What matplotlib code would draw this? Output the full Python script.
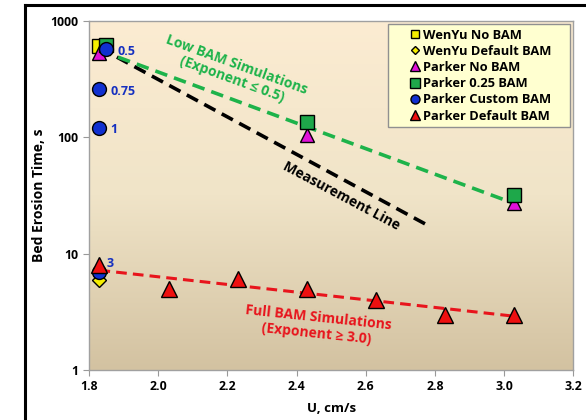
import numpy as np
import matplotlib
matplotlib.use("Agg")
import matplotlib.pyplot as plt
from matplotlib.colors import LinearSegmentedColormap
from matplotlib.lines import Line2D

plt.rcParams['font.family'] = ['Open Sans', 'DejaVu Sans']

# ---- data ----
wenyu_nobam_u, wenyu_nobam_t = [1.83], [610]
wenyu_default_u, wenyu_default_t = [1.83], [5.9]
parker_nobam_u = [1.83, 2.43, 3.03]
parker_nobam_t = [530, 105, 27]
parker_025_u = [1.85, 2.43, 3.03]
parker_025_t = [620, 135, 32]
parker_custom_u = [1.85, 1.83, 1.83, 1.83]
parker_custom_t = [570, 260, 120, 7]
custom_labels = ["0.5", "0.75", "1", "3"]
parker_default_u = [1.83, 2.03, 2.23, 2.43, 2.63, 2.83, 3.03]
parker_default_t = [8, 5, 6, 5, 4, 3, 3]

low_bam_u, low_bam_t = [1.83, 3.03], [560, 27]
meas_u, meas_t = [1.83, 2.78], [590, 17.5]
full_bam_u, full_bam_t = [1.83, 3.03], [7.2, 2.9]

GREEN = "#1db34a"
RED = "#e8141c"
BLUE = "#1530c0"

fig = plt.figure(figsize=(5.86, 4.2), dpi=100)
ax = fig.add_axes([0.152, 0.119, 0.826, 0.831])

# outer black frame (cropped at right/bottom in the reference)
fig.add_artist(Line2D([25 / 586, 25 / 586], [0, 1 - 5 / 420], color="black", lw=2.2,
                      transform=fig.transFigure))
fig.add_artist(Line2D([25 / 586, 1], [1 - 5 / 420, 1 - 5 / 420], color="black", lw=2.2,
                      transform=fig.transFigure))

# gradient plot area
cmap = LinearSegmentedColormap.from_list("bg", ["#d3c2a1", "#f0e4c8", "#fcecd2"])
grad = np.linspace(0, 1, 256).reshape(-1, 1)
ax.imshow(grad, extent=[0, 1, 0, 1], transform=ax.transAxes, aspect="auto",
          cmap=cmap, origin="lower", zorder=0)

ax.set_yscale("log")

# fitted / reference lines
ax.plot(meas_u, meas_t, ls=(0, (3.5, 2)), color="black", lw=2.6, zorder=2)
ax.plot(low_bam_u, low_bam_t, ls=(0, (3.5, 2)), color=GREEN, lw=2.6, zorder=2)
ax.plot(full_bam_u, full_bam_t, ls=(0, (3.5, 2)), color=RED, lw=2.2, zorder=2)

mk = dict(ls="none", mec="black", mew=1.0, zorder=4)
ax.plot(wenyu_nobam_u, wenyu_nobam_t, marker="s", ms=9.5, mfc="#f5ee00",
        label="WenYu No BAM", **mk)
ax.plot(wenyu_default_u, wenyu_default_t, marker="D", ms=7, mfc="#f5ee00",
        label="WenYu Default BAM", **mk)
ax.plot(parker_nobam_u, parker_nobam_t, marker="^", ms=10.5, mfc="#e010d8",
        label="Parker No BAM", **mk)
ax.plot(parker_025_u, parker_025_t, marker="s", ms=10, mfc="#1ea84a",
        label="Parker 0.25 BAM", **mk)
ax.plot(parker_custom_u, parker_custom_t, marker="o", ms=10, mfc="#1030d0",
        label="Parker Custom BAM", **mk)
ax.plot(parker_default_u, parker_default_t, marker="^", ms=11, mfc="#ee1010",
        label="Parker Default BAM", **mk)

# custom BAM exponent labels
offsets = [(8, -1.5), (8, -2), (8, -1), (5, 6)]
for u, t, s, off in zip(parker_custom_u, parker_custom_t, custom_labels, offsets):
    ax.annotate(s, (u, t), xytext=off, textcoords="offset points", color=BLUE,
                fontsize=9, fontweight="bold", va="center", ha="left", zorder=5)

# region text
ax.text(2.22, 365, "Low BAM Simulations\n(Exponent \u2264 0.5)", color=GREEN,
        fontsize=10, fontweight="bold", rotation=-20, ha="center", va="center",
        linespacing=1.15, zorder=5)
ax.text(2.53, 31, "Measurement Line", color="black", fontsize=10,
        fontweight="bold", rotation=-28, ha="center", va="center", zorder=5)
ax.text(2.46, 2.4, "Full BAM Simulations\n(Exponent \u2265 3.0)", color=RED,
        fontsize=10, fontweight="bold", rotation=-6, ha="center", va="center",
        linespacing=1.15, zorder=5)

ax.set_xlim(1.8, 3.2)
ax.set_ylim(1, 1000)
ax.set_xticks(np.arange(1.8, 3.21, 0.2))
ax.set_xticklabels([f"{v:.1f}" for v in np.arange(1.8, 3.21, 0.2)])
ax.set_yticks([1, 10, 100, 1000])
ax.set_yticklabels(["1", "10", "100", "1000"])
ax.yaxis.set_minor_locator(matplotlib.ticker.NullLocator())
ax.tick_params(labelsize=8.8, length=4, color="#999999")
for lab in ax.get_xticklabels() + ax.get_yticklabels():
    lab.set_fontweight("bold")
    lab.set_color("black")
for sp in ax.spines.values():
    sp.set_color("#a0a0a0")
    sp.set_linewidth(1.0)

ax.set_xlabel("U, cm/s", fontsize=9.5, fontweight="bold", labelpad=6)
ax.set_ylabel("Bed Erosion Time, s", fontsize=10, fontweight="bold")
ax.yaxis.set_label_coords(-0.09, 0.5)

# wide, Excel-like legend box
leg = ax.legend(loc="upper left", prop={"weight": "bold", "size": 9.3},
                frameon=True, fancybox=False, handlelength=3.4, handletextpad=-1.05,
                borderpad=0.35, labelspacing=0.25, markerscale=0.65,
                borderaxespad=0, mode="expand",
                bbox_to_anchor=(0.618, 0.9914, 0.376, 0))
leg.get_frame().set_facecolor("#ffffd0")
leg.get_frame().set_edgecolor("#909090")
leg.get_frame().set_alpha(1)

fig.savefig("out.png", dpi=100)
